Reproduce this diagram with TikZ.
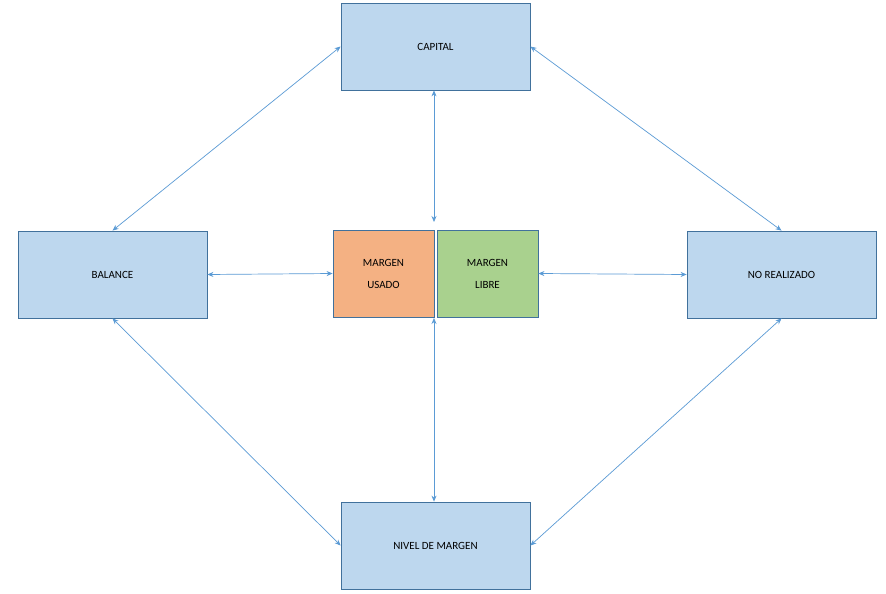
\documentclass[tikz,border=0pt]{standalone}
\usepackage{fontspec}
\setmainfont{Carlito}
\usetikzlibrary{arrows.meta}
\definecolor{bfill}{HTML}{BDD7EE}
\definecolor{bdraw}{HTML}{41719C}
\definecolor{ofill}{HTML}{F4B183}
\definecolor{gfill}{HTML}{A9D18E}
\definecolor{arr}{HTML}{5B9BD5}
\begin{document}
\begin{tikzpicture}[x=1pt,y=-1pt,
  box/.style={draw=bdraw,fill=bfill,line width=0.8pt,minimum width=189pt,minimum height=87pt,inner sep=0pt,font=\fontsize{11}{13}\selectfont},
  mbox/.style={draw=bdraw,line width=0.8pt,minimum width=101pt,minimum height=87pt,inner sep=0pt,align=center,font=\fontsize{11}{22}\selectfont},
  con/.style={draw=arr,line width=0.7pt,{Stealth[length=6pt,width=5pt]}-{Stealth[length=6pt,width=5pt]}}]
\useasboundingbox (0,0) rectangle (886,594);
\fill[white] (0,0) rectangle (886,594);
\node[box] (cap) at (435.5,46.5) {CAPITAL};
\node[box] (bal) at (112.5,274.5) {BALANCE};
\node[box] (nr) at (781.5,274.5) {NO REALIZADO};
\node[box] (niv) at (435.5,545.5) {NIVEL DE MARGEN};
\node[mbox,fill=ofill] (mu) at (383.5,273.5) {MARGEN\\USADO};
\node[mbox,fill=gfill] (ml) at (487.5,273.5) {MARGEN\\LIBRE};
\coordinate (mt) at (434,222);
\coordinate (mb) at (434,318);
\draw[con] (cap.south -| mt) -- (mt);
\draw[con] (niv.north -| mb) -- (mb);
\draw[con] (bal.north) -- (cap.west);
\draw[con] (cap.east) -- (nr.north);
\draw[con] (bal.south) -- (niv.west);
\draw[con] (nr.south) -- (niv.east);
\draw[con] (bal.east) -- (mu.west);
\draw[con] (ml.east) -- (nr.west);
\end{tikzpicture}
\end{document}
